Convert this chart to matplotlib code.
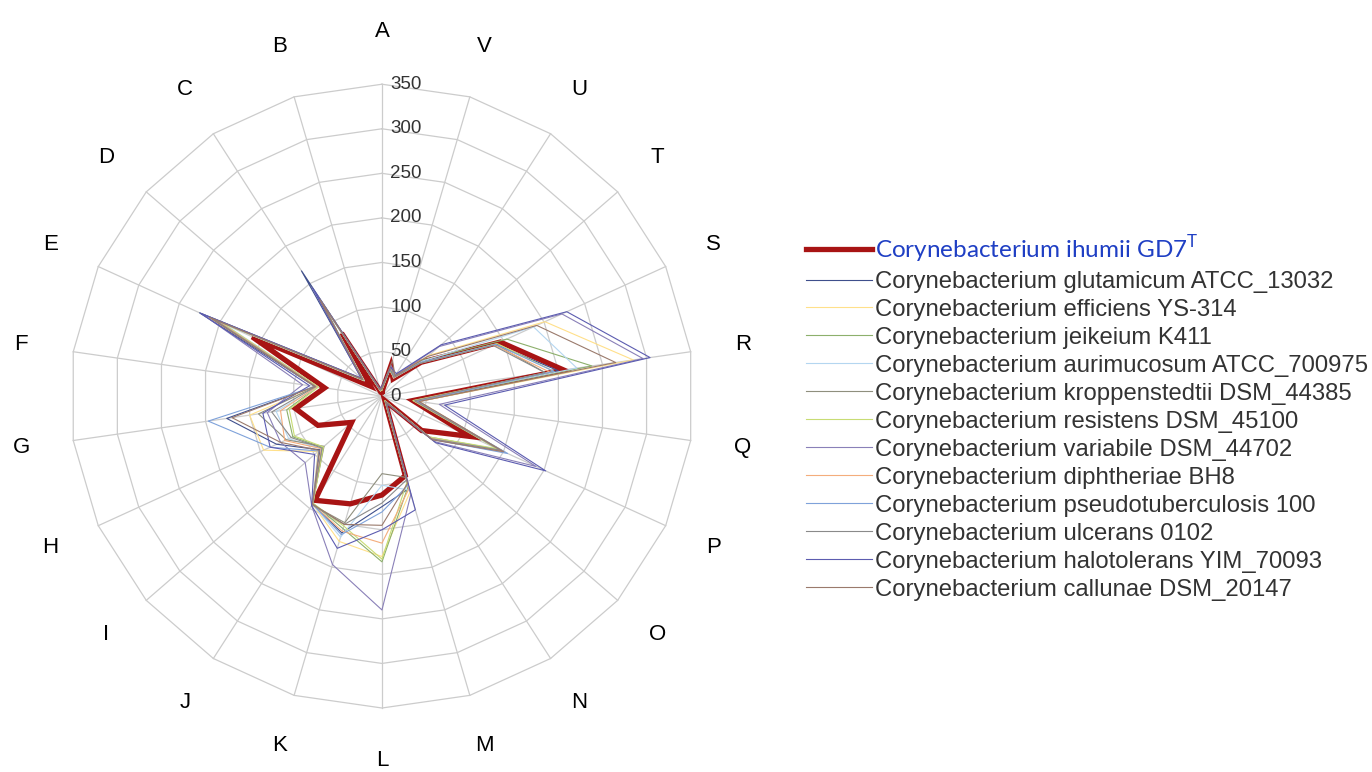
import matplotlib.pyplot as plt
import numpy as np

plt.rcParams['font.family'] = ['Liberation Sans', 'DejaVu Sans']
plt.rcParams['mathtext.fontset'] = 'custom'
plt.rcParams['mathtext.rm'] = 'Lato'

categories = list("ABCDEFGHIJKLMNOPQRSTUV")
rticks = [0, 50, 100, 150, 200, 250, 300, 350]

# values per category, A..V
ihumii =         [5, 5, 84, 17, 160, 65, 98, 79, 45, 139, 126, 111, 93, 6, 59, 109, 35, 206, 146, 58, 23, 35]
glutamicum =     [10, 8, 167, 30, 225, 76, 176, 130, 92, 144, 160, 124, 108, 8, 74, 150, 40, 200, 140, 58, 26, 30]
efficiens =      [8, 6, 128, 27, 205, 74, 150, 146, 95, 144, 170, 180, 112, 7, 72, 152, 42, 285, 201, 70, 27, 33]
jeikeium =       [7, 6, 130, 28, 200, 73, 108, 110, 88, 143, 155, 186, 105, 6, 70, 145, 38, 238, 154, 62, 25, 31]
aurimucosum =    [8, 7, 125, 26, 195, 72, 120, 115, 90, 144, 165, 100, 110, 7, 71, 148, 36, 221, 187, 60, 24, 32]
kroppenstedtii = [9, 7, 128, 29, 212, 75, 140, 118, 86, 145, 148, 87, 95, 8, 73, 150, 40, 185, 140, 56, 26, 34]
resistens =      [7, 6, 132, 27, 198, 72, 105, 108, 87, 143, 152, 183, 100, 6, 70, 142, 35, 195, 142, 57, 25, 30]
variabile =      [10, 8, 135, 30, 222, 90, 130, 125, 114, 146, 197, 240, 115, 9, 78, 190, 65, 296, 222, 85, 28, 36]
diphtheriae =    [8, 6, 126, 28, 203, 74, 115, 120, 90, 144, 158, 165, 108, 7, 72, 152, 38, 190, 138, 57, 24, 33]
pseudotuberculosis = [9, 7, 127, 29, 210, 76, 197, 138, 94, 144, 162, 130, 104, 8, 74, 155, 40, 195, 140, 58, 26, 31]
ulcerans =       [8, 7, 124, 28, 207, 75, 125, 112, 89, 145, 150, 120, 98, 7, 73, 146, 37, 185, 137, 56, 25, 32]
halotolerans =   [11, 9, 145, 31, 224, 82, 135, 138, 100, 146, 178, 150, 133, 9, 80, 202, 71, 304, 228, 88, 30, 34]
callunae =       [9, 8, 129, 29, 213, 76, 170, 125, 93, 144, 150, 145, 102, 8, 75, 150, 42, 265, 191, 68, 27, 42]

names = ["Corynebacterium ihumii GD7$^{\\mathrm{T}}$",
         "Corynebacterium glutamicum ATCC_13032",
         "Corynebacterium efficiens YS-314",
         "Corynebacterium jeikeium K411",
         "Corynebacterium aurimucosum ATCC_700975",
         "Corynebacterium kroppenstedtii DSM_44385",
         "Corynebacterium resistens DSM_45100",
         "Corynebacterium variabile DSM_44702",
         "Corynebacterium diphtheriae BH8",
         "Corynebacterium pseudotuberculosis 100",
         "Corynebacterium ulcerans 0102",
         "Corynebacterium halotolerans YIM_70093",
         "Corynebacterium callunae DSM_20147"]
values = [ihumii, glutamicum, efficiens, jeikeium, aurimucosum, kroppenstedtii,
          resistens, variabile, diphtheriae, pseudotuberculosis, ulcerans,
          halotolerans, callunae]
colors = ['#a81414', '#3f4f8c', '#ffe08a', '#8db06c', '#b4d6f0', '#8f8f7e',
          '#c8dc74', '#8a80b8', '#f4ad7c', '#7fa2da', '#8a8a8a', '#5c5cb0', '#9a7a6c']

n = len(categories)
theta = np.linspace(0, 2 * np.pi, n, endpoint=False)
theta_c = np.append(theta, theta[0])

fig = plt.figure(figsize=(13.72, 7.72), dpi=100)
ax = fig.add_axes([0.051, 0.0829, 0.4548, 0.808], projection='polar')
ax.set_theta_offset(np.pi / 2)
ax.set_theta_direction(1)
ax.set_ylim(0, 350)
ax.grid(False)
ax.spines['polar'].set_visible(False)
ax.set_xticks([])
ax.set_yticks([])

# polygon grid
for r in rticks[1:]:
    ax.plot(theta_c, [r] * (n + 1), color='#cccccc', lw=0.9, zorder=1, clip_on=False)
for t in theta:
    ax.plot([t, t], [0, 350], color='#cccccc', lw=0.9, zorder=1, clip_on=False)

handles = []
for i, (nm, v, c) in enumerate(zip(names, values, colors)):
    vv = np.append(v, v[0])
    if i == 0:
        h, = ax.plot(theta_c, vv, color=c, lw=3.8, zorder=2, clip_on=False, solid_joinstyle='miter')
    else:
        h, = ax.plot(theta_c, vv, color=c, lw=0.8, zorder=3, clip_on=False)
    handles.append(h)

for r in rticks:
    ax.annotate(str(r), xy=(0, r), xytext=(6, 0), textcoords='offset points',
                ha='left', va='center', fontsize=13.5, color='#333333', zorder=5)

for t, lab in zip(theta, categories):
    ax.text(t, 409, lab, ha='center', va='center', fontsize=16, color='black')

leg = fig.legend(handles, names, loc='upper left', bbox_to_anchor=(806 / 1372, 1 - 233 / 772),
                 frameon=False, fontsize=17.2, handlelength=2.75, handletextpad=0.15,
                 labelspacing=0.25, borderpad=0, borderaxespad=0)
t0 = leg.get_texts()[0]
t0.set_color('#1f3fc4')
t0.set_fontfamily('Lato')
t0.set_fontsize(17.5)
for t in leg.get_texts()[1:]:
    t.set_color('#333333')

fig.savefig('out.png', dpi=100)
